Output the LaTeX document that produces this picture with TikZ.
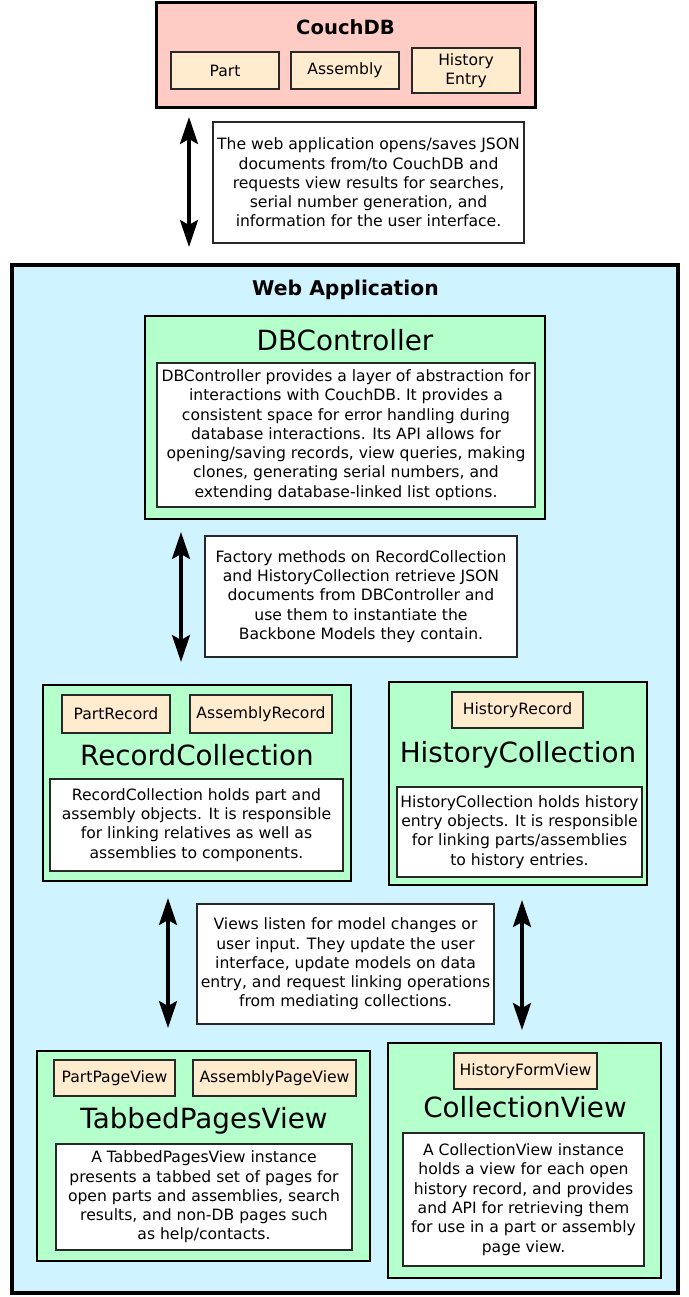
\documentclass[tikz,border=0pt]{standalone}
\usepackage{fontspec}
\setmainfont{DejaVu Sans}
\usetikzlibrary{arrows.meta}

\definecolor{dbpink}{RGB}{255,204,197}
\definecolor{cream}{RGB}{255,235,205}
\definecolor{appcyan}{RGB}{208,244,255}
\definecolor{modgreen}{RGB}{180,255,204}
\definecolor{edge}{RGB}{40,40,40}

\begin{document}
\begin{tikzpicture}[
  x=1pt, y=-1pt,
  every node/.style={inner sep=0pt, outer sep=0pt},
  body/.style={font=\fontsize{15.6}{19.3}\selectfont, align=center},
  dbbox/.style={rectangle, draw, line width=3pt, fill=dbpink},
  appbox/.style={rectangle, draw, line width=4.5pt, fill=appcyan},
  modbox/.style={rectangle, draw, line width=2.5pt, fill=modgreen},
  objbox/.style={rectangle, draw=edge, line width=1.5pt, fill=cream, body},
  note/.style={rectangle, draw=edge, line width=1.5pt, fill=white, body},
  heading/.style={anchor=base, font=\fontsize{19.6}{23}\selectfont\bfseries},
  modname/.style={anchor=base, font=\fontsize{27.8}{32}\selectfont},
  link/.style={{Stealth[length=27pt,width=18pt,inset=5pt]}-{Stealth[length=27pt,width=18pt,inset=5pt]}, line width=3.5pt}
]
\useasboundingbox (0,0) rectangle (688,1297);

% CouchDB at the top
\node[dbbox, minimum width=379, minimum height=105] (couch) at (345.5,55.5) {};
\node[heading] (couchname) at (345.5,35) {CouchDB};
\node[objbox, minimum width=108, minimum height=37] (part) at (225,70.5) {Part};
\node[objbox, minimum width=108, minimum height=37] (assembly) at (345,70.5) {Assembly};
\node[objbox, minimum width=108, minimum height=45] (entry) at (466,70.5) {History\\Entry};

% Web application container
\node[appbox, minimum width=666, minimum height=1028] (webapp) at (345,779) {};
\node[heading, font=\fontsize{20.3}{24}\selectfont\bfseries] (webappname) at (345.5,295) {Web Application};

% CouchDB <-> web application
\coordinate (a1) at (189,0);
\draw[link, shorten <=9pt, shorten >=18pt] (couch.south -| a1) -- (webapp.north -| a1);
\node[note, minimum width=311, minimum height=121] (couchnote) at (368.5,182.5)
  {The web application opens/saves JSON\\documents from/to CouchDB and\\requests view results for searches,\\serial number generation, and\\information for the user interface.};

% DBController
\node[modbox, minimum width=400, minimum height=203] (dbc) at (345,417.5) {};
\node[modname] (dbcname) at (345,350) {DBController};
\node[note, minimum width=378, minimum height=144] (dbcnote) at (346,435)
  {DBController provides a layer of abstraction for\\interactions with CouchDB. It provides a\\consistent space for error handling during\\database interactions. Its API allows for\\opening/saving records, view queries, making\\clones, generating serial numbers, and\\extending database-linked list options.};

% RecordCollection (left) and HistoryCollection (right)
\node[modbox, minimum width=308, minimum height=196] (rc) at (197,783) {};
\node[objbox, minimum width=108, minimum height=38] (partrec) at (116,714) {PartRecord};
\node[objbox, minimum width=142, minimum height=38] (asmrec) at (261,714) {AssemblyRecord};
\node[modname] (rcname) at (197,765) {RecordCollection};
\node[note, minimum width=293, minimum height=92] (rcnote) at (196.5,825)
  {RecordCollection holds part and\\assembly objects. It is responsible\\for linking relatives as well as\\assemblies to components.};

\node[modbox, minimum width=258, minimum height=203] (hc) at (518,783.5) {};
\node[objbox, minimum width=131, minimum height=36] (histrec) at (517.5,710) {HistoryRecord};
\node[modname] (hcname) at (518,762) {HistoryCollection};
\node[note, minimum width=245, minimum height=90] (hcnote) at (519.5,832)
  {HistoryCollection holds history\\entry objects. It is responsible\\for linking parts/assemblies\\to history entries.};

% DBController <-> collections
\coordinate (a2) at (181,0);
\draw[link, shorten <=13pt, shorten >=23pt] (dbc.south -| a2) -- (rc.north -| a2);
\node[note, minimum width=312, minimum height=121] (factnote) at (361,596.5)
  {Factory methods on RecordCollection\\and HistoryCollection retrieve JSON\\documents from DBController and\\use them to instantiate the\\Backbone Models they contain.};

% Views
\node[modbox, minimum width=333, minimum height=210] (tpv) at (203.5,1156) {};
\node[objbox, minimum width=121, minimum height=36] (partpv) at (114.5,1078) {PartPageView};
\node[objbox, minimum width=163, minimum height=36] (asmpv) at (274.5,1078) {AssemblyPageView};
\node[modname] (tpvname) at (204,1128) {TabbedPagesView};
\node[note, minimum width=296, minimum height=106] (tpvnote) at (204,1197)
  {A TabbedPagesView instance\\presents a tabbed set of pages for\\open parts and assemblies, search\\results, and non-DB pages such\\as help/contacts.};

\node[modbox, minimum width=273, minimum height=235] (cv) at (524.5,1160.5) {};
\node[objbox, minimum width=143, minimum height=36] (histform) at (525.5,1071) {HistoryFormView};
\node[modname] (cvname) at (525,1117) {CollectionView};
\node[note, minimum width=241, minimum height=133] (cvnote) at (523.5,1199.5)
  {A CollectionView instance\\holds a view for each open\\history record, and provides\\and API for retrieving them\\for use in a part or assembly\\page view.};

% collections <-> views
\coordinate (a3) at (168,0);
\coordinate (a4) at (522,0);
\draw[link, shorten <=17pt, shorten >=23pt] (rc.south -| a3) -- (tpv.north -| a3);
\draw[link, shorten <=15pt, shorten >=13pt] (hc.south -| a4) -- (cv.north -| a4);
\node[note, minimum width=297, minimum height=120] (viewnote) at (345.5,964)
  {Views listen for model changes or\\user input. They update the user\\interface, update models on data\\entry, and request linking operations\\from mediating collections.};

\end{tikzpicture}
\end{document}
